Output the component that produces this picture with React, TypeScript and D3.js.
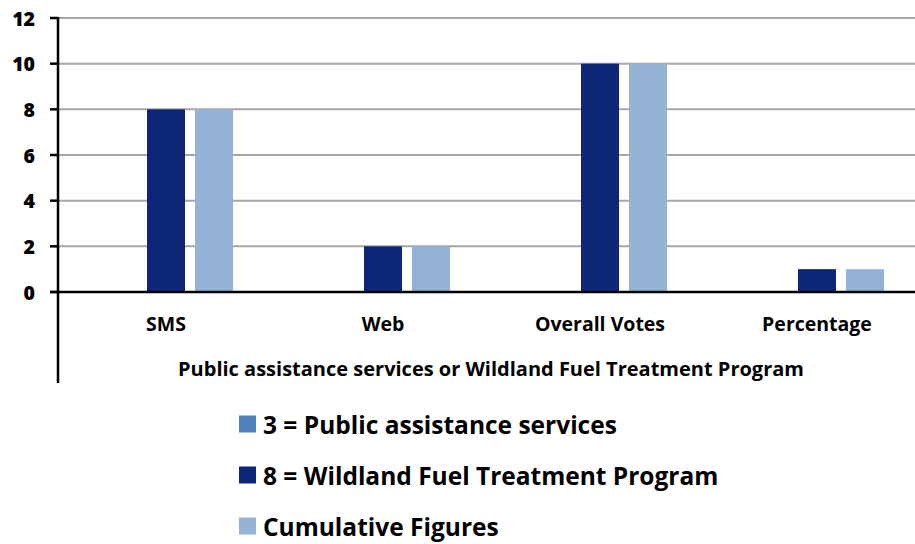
import React from "react";
import * as d3 from "d3";

const categories = ["SMS", "Web", "Overall Votes", "Percentage"];
const seriesNames = [
  "3 = Public assistance services",
  "8 = Wildland Fuel Treatment Program",
  "Cumulative Figures",
];
const publicAssistance = [0, 0, 0, 0];
const wildlandFuel = [8, 2, 10, 1];
const cumulative = [8, 2, 10, 1];
const yTicks = [0, 2, 4, 6, 8, 10, 12];
const xTitle = "Public assistance services or Wildland Fuel Treatment Program";

const colors = ["#4F81BD", "#0E2677", "#95B3D7"];
const FONT = "'Open Sans', Lato, sans-serif";

export default function App() {
  const W = 915;
  const H = 544;
  const seriesValues = [publicAssistance, wildlandFuel, cumulative];
  const x0 = d3.scaleBand<string>().domain(categories).range([57.5, 925.5]).padding(0);
  const x1 = d3
    .scaleBand<number>()
    .domain([0, 1, 2])
    .range([41.5, x0.bandwidth() - 41.5])
    .paddingInner(10 / 48)
    .paddingOuter(0);
  const y = d3.scaleLinear().domain([0, 12]).range([292, 18]);
  const axisX = 58;

  return (
    <svg
      width={W}
      height={H}
      style={{ position: "absolute", left: 0, top: 0, background: "#fff" }}
      fontFamily={FONT}
    >
      {/* gridlines */}
      {yTicks.filter((t) => t !== 0).map((t) => (
        <line key={"g" + t} x1={axisX} x2={W} y1={y(t)} y2={y(t)} stroke="#A6A6A6" strokeWidth={2} />
      ))}
      {/* bars */}
      {categories.map((c, ci) =>
        seriesValues.map((vals, si) =>
          vals[ci] > 0 ? (
            <rect
              key={c + si}
              x={(x0(c) as number) + (x1(si) as number)}
              y={y(vals[ci])}
              width={x1.bandwidth()}
              height={y(0) - y(vals[ci])}
              fill={colors[si]}
            />
          ) : null
        )
      )}
      {/* x axis baseline */}
      <line x1={50} x2={W} y1={y(0)} y2={y(0)} stroke="#000" strokeWidth={2.5} />
      {/* y axis */}
      <line x1={axisX} x2={axisX} y1={y(12) - 1} y2={383} stroke="#000" strokeWidth={2.5} />
      {yTicks.map((t) => (
        <g key={"t" + t}>
          <line x1={50} x2={axisX} y1={y(t)} y2={y(t)} stroke="#000" strokeWidth={2.5} />
          <text
            x={35}
            y={y(t)}
            textAnchor="end"
            dominantBaseline="central"
            fontSize={19.5}
            fontWeight={800}
            fill="#000"
          >
            {t}
          </text>
        </g>
      ))}
      {/* category labels */}
      {categories.map((c) => (
        <text
          key={"c" + c}
          x={(x0(c) as number) + x0.bandwidth() / 2}
          y={323}
          textAnchor="middle"
          dominantBaseline="central"
          fontSize={19.5}
          fontWeight="bold"
          fill="#000"
        >
          {c}
        </text>
      ))}
      <text
        x={491}
        y={368}
        textAnchor="middle"
        dominantBaseline="central"
        fontSize={20}
        fontWeight="bold"
        fill="#000"
      >
        {xTitle}
      </text>
      {/* legend */}
      {seriesNames.map((s, i) => (
        <g key={"l" + i} transform={`translate(239, ${424 + i * 51})`}>
          <rect x={0} y={-8.5} width={17} height={17} fill={colors[i]} />
          <text x={24} y={0} dominantBaseline="central" fontSize={24.5} fontWeight="bold" fill="#000">
            {s}
          </text>
        </g>
      ))}
    </svg>
  );
}
